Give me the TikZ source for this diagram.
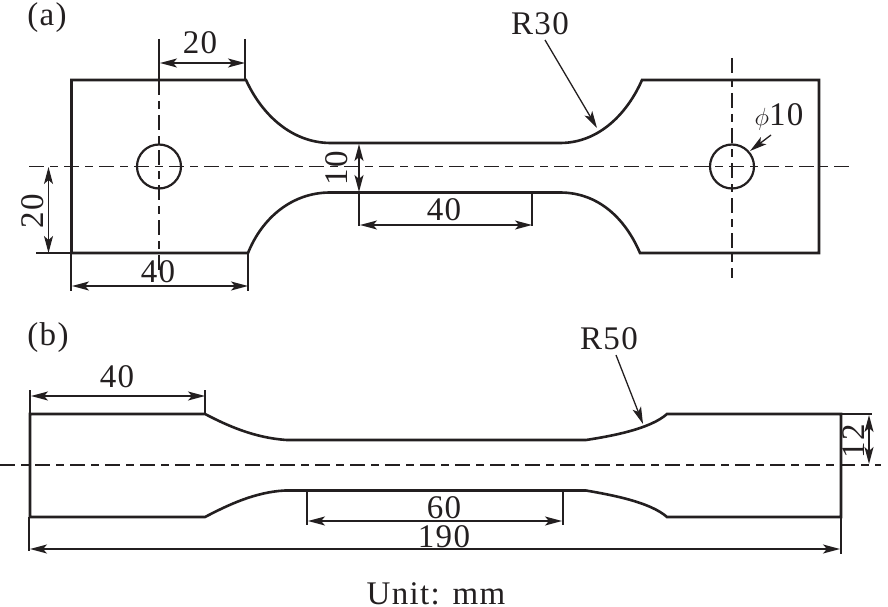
\documentclass[tikz,border=0pt]{standalone}
\usepackage{fontspec}
\setmainfont{Liberation Serif}[LetterSpace=4]
\usetikzlibrary{arrows.meta}
\definecolor{ink}{HTML}{231F20}
\tikzset{
  outline/.style={draw=ink,line width=2.6pt,line join=miter},
  center/.style={draw=ink,line width=1.8pt,dash pattern=on 15pt off 6pt on 8pt off 6pt},
  ext/.style={draw=ink,line width=1.3pt},
  dim/.style={draw=ink,line width=1.3pt,{Stealth[length=17pt,width=9pt,inset=4pt]}-{Stealth[length=17pt,width=9pt,inset=4pt]}},
  lead/.style={draw=ink,line width=1.3pt,-{Stealth[length=17pt,width=9pt,inset=4pt]}},
  lbl/.style={text=ink,font=\fontsize{33}{33}\selectfont,inner sep=0pt},
}
\begin{document}
\begin{tikzpicture}[x=1pt,y=-1pt]
\useasboundingbox (0,0) rectangle (888,607);
% part (a) centre lines
\draw[center] (29,166.5) -- (852,166.5);
\draw[center] (159,80) -- (159,270);
\draw[center] (732,58) -- (732,278);
% part (a) outline
\draw[outline] (71.5,80) -- (246,80) .. controls (262,115) and (292,143) .. (331,143)
  -- (560,143) .. controls (600,143) and (628,112) .. (642,80) -- (819,80) -- (819,253)
  -- (640,253) .. controls (625,218) and (598,192.5) .. (560,192.5)
  -- (330,192.5) .. controls (292,192.5) and (262,218) .. (248,253) -- (71.5,253) -- cycle;
\draw[draw=ink,line width=2.2pt] (159,166.5) circle (22);
\draw[draw=ink,line width=2.2pt] (732,166.5) circle (22);
% part (a) dimensions
\draw[ext] (159,39) -- (159,80);
\draw[ext] (245,39) -- (245,80);
\draw[dim] (160,63) -- (245,63);
\node[lbl] (a20top) at (200,43) {20};
\draw[ext] (36,253) -- (71,253);
\draw[dim] (48.5,167) -- (48.5,253);
\node[lbl,rotate=90] (a20left) at (33,211) {20};
\draw[ext] (71,253) -- (71,291);
\draw[ext] (248,253) -- (248,291);
\draw[dim] (72,286) -- (248,286);
\node[lbl] (a40bot) at (158,272) {40};
\draw[dim] (359,144) -- (359,192);
\node[lbl,rotate=90] (a10) at (337,168) {10};
\draw[ext] (359,192) -- (359,226);
\draw[ext] (532,192) -- (532,226);
\draw[dim] (360,225) -- (532,225);
\node[lbl] (a40mid) at (444,210) {40};
\node[lbl] (r30) at (540,24) {R30};
\coordinate (r30tip) at (597,128);
\draw[lead] (545,40) -- (r30tip);
\node[lbl] (phi) at (779,117) {{\fontsize{42}{42}\selectfont$\phi$}10};
\coordinate (phitip) at (750,151);
\draw[lead] (771,135) -- (phitip);
% part (b)
\draw[center] (0,465) -- (881,465);
\draw[outline] (30,414) -- (205,414) .. controls (228,426) and (255,438) .. (287,440)
  -- (586,440) .. controls (612,436) and (650,429) .. (667,414) -- (841,414) -- (841,517)
  -- (667,517) .. controls (650,502) and (612,495) .. (586,490.5)
  -- (285,490.5) .. controls (255,492) and (228,505) .. (205,517) -- (30,517) -- cycle;
\draw[ext] (30,390) -- (30,414);
\draw[ext] (205,390) -- (205,414);
\draw[dim] (31,396) -- (205,396);
\node[lbl] (b40) at (117,377) {40};
\draw[ext] (307,490) -- (307,525);
\draw[ext] (563,490) -- (563,525);
\draw[dim] (308,521) -- (562,521);
\node[lbl] (b60) at (444,508) {60};
\draw[ext] (29,517) -- (29,551);
\draw[ext] (841,517) -- (841,554);
\draw[dim] (30,549) -- (840,549);
\node[lbl] (b190) at (444,537) {190};
\draw[ext] (841,414) -- (872,414);
\draw[dim] (869,415) -- (869,464);
\node[lbl,rotate=90] (b12) at (854,441) {12};
\node[lbl] (r50) at (609,339) {R50};
\coordinate (r50tip) at (643,424);
\draw[lead] (616,355) -- (r50tip);
% captions
\node[lbl] (capa) at (47,18) {(a)};
\node[lbl] (capb) at (48,338) {(b)};
\node[lbl,anchor=base] (unit) at (436,604) {Unit: mm};
\end{tikzpicture}
\end{document}
